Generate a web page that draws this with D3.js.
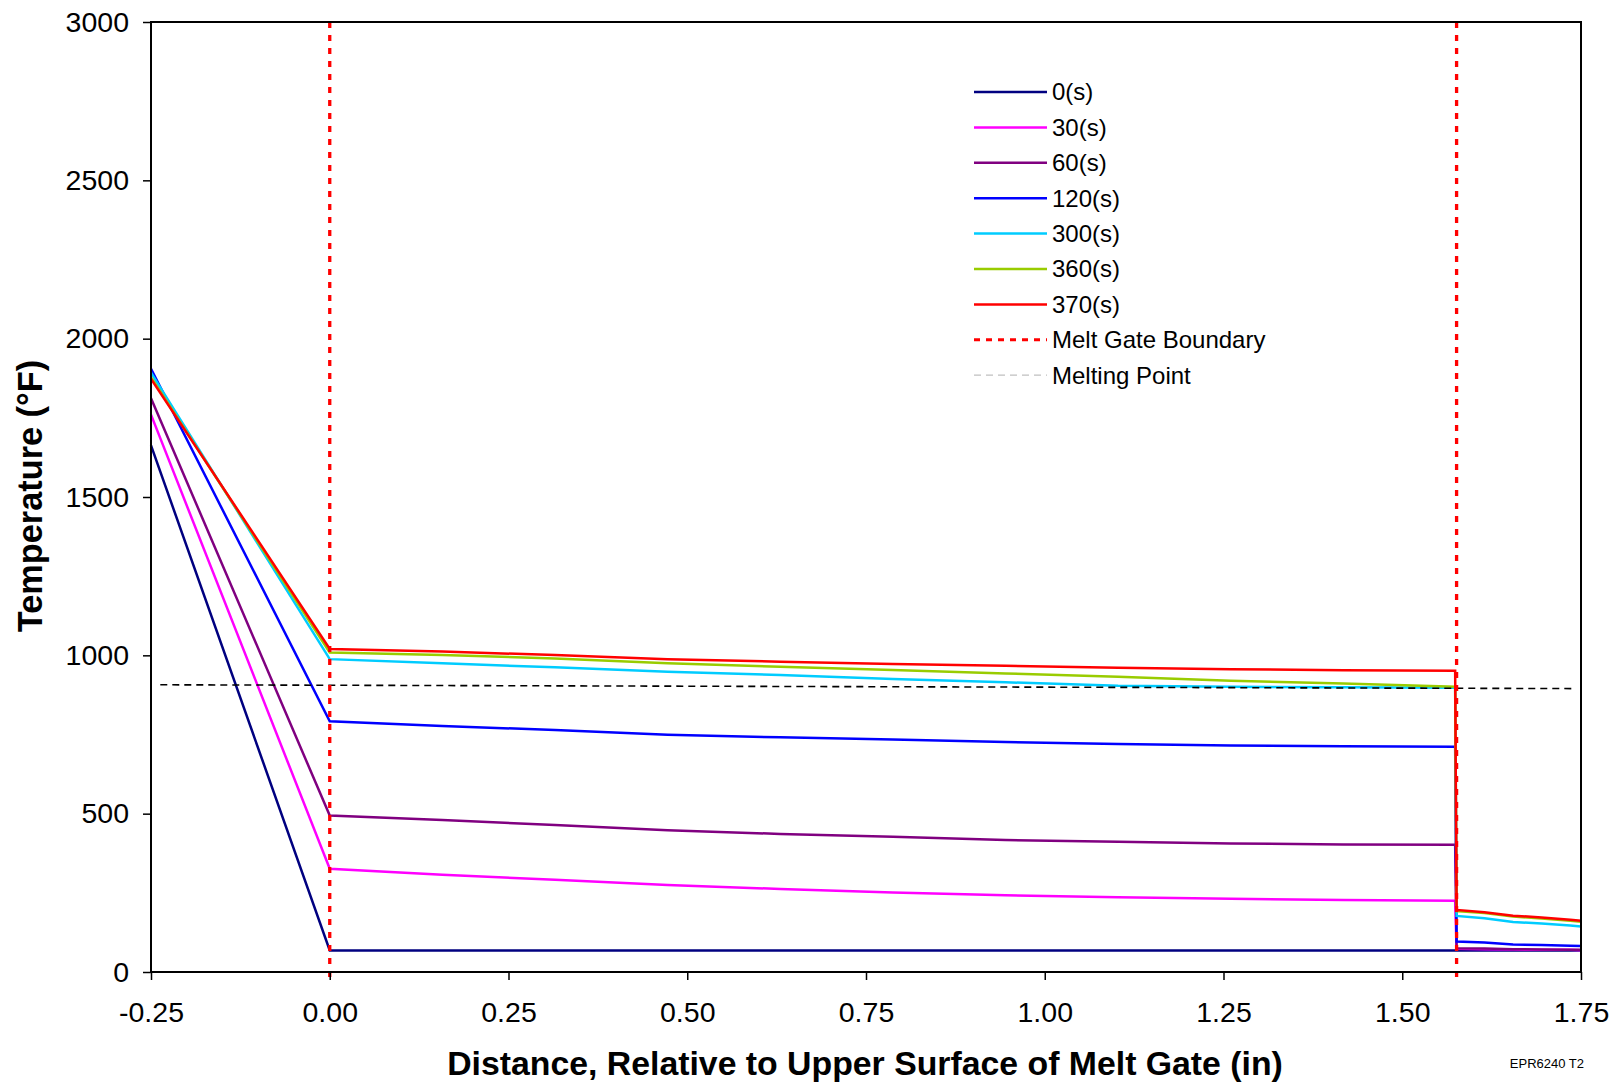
<!DOCTYPE html>
<html>
<head>
<meta charset="utf-8">
<script src="https://cdn.jsdelivr.net/npm/d3@7"></script>
<style>
  html, body { margin: 0; padding: 0; background: #fff; }
  svg { display: block; }
  text { font-family: "Liberation Sans", Arial, sans-serif; fill: #000; }
</style>
</head>
<body>
<svg id="chart" width="1621" height="1083"></svg>
<script>
// ---- Data ----
const xNodes = [-0.25, 0, 0.1575, 0.315, 0.4725, 0.63, 0.7875, 0.945, 1.1025, 1.26, 1.4175, 1.574,
                1.576, 1.615, 1.655, 1.695, 1.735, 1.75];

const seriesNames = ["0(s)", "30(s)", "60(s)", "120(s)", "300(s)", "360(s)", "370(s)"];
const seriesColors = ["#000080", "#ff00ff", "#800080", "#0000ff", "#00ccff", "#99cc00", "#ff0000"];

const temp0s   = [1663, 68, 68, 68, 68, 68, 68, 68, 68, 68, 68, 68, 68, 68, 68, 68, 68, 68];
const temp30s  = [1760, 326, 307, 291, 275, 262, 251, 242, 236, 231, 227, 225, 73, 72, 71, 70, 70, 69];
const temp60s  = [1812, 494, 480, 464, 448, 436, 427, 417, 411, 406, 403, 402, 75, 74, 72, 71, 70, 70];
const temp120s = [1905, 792, 777, 764, 749, 741, 734, 726, 720, 715, 713, 711, 96, 93, 87, 85, 83, 82];
const temp300s = [1893, 988, 975, 962, 948, 938, 925, 915, 904, 901, 899, 898, 177, 170, 158, 153, 147, 144];
const temp360s = [1878, 1009, 1001, 990, 975, 964, 954, 943, 932, 920, 911, 901, 192, 186, 175, 169, 162, 159];
const temp370s = [1873, 1020, 1012, 1001, 988, 980, 973, 967, 961, 956, 953, 951, 196, 189, 178, 172, 165, 162];

const gateBoundaryX = [0, 1.576];
const meltingPointX = [-0.237, 1.739];
const meltingPointT = [907, 895];

const xTicks = [-0.25, 0, 0.25, 0.5, 0.75, 1.0, 1.25, 1.5, 1.75];
const yTicks = [0, 500, 1000, 1500, 2000, 2500, 3000];

const xTitle = "Distance, Relative to Upper Surface of Melt Gate (in)";
const yTitle = "Temperature (°F)";
const footnote = "EPR6240 T2";

// ---- Layout ----
const svg = d3.select("#chart");
const L = 151, R = 1581, T = 22, B = 972;

const x = d3.scaleLinear().domain([-0.25, 1.75]).range([L, R]);
const y = d3.scaleLinear().domain([0, 3000]).range([B, T]);

const allSeries = [temp0s, temp30s, temp60s, temp120s, temp300s, temp360s, temp370s];

// series lines
const line = d3.line().x((d, i) => x(xNodes[i])).y(d => y(d));
const gSeries = svg.append("g");
allSeries.forEach((vals, k) => {
  gSeries.append("path")
    .datum(vals)
    .attr("d", line)
    .attr("fill", "none")
    .attr("stroke", seriesColors[k])
    .attr("stroke-width", 2.5)
    .attr("stroke-linejoin", "miter");
});

// melting point line
svg.append("path")
  .datum(meltingPointT)
  .attr("d", d3.line().x((d, i) => x(meltingPointX[i])).y(d => y(d)))
  .attr("fill", "none")
  .attr("stroke", "#000")
  .attr("stroke-width", 1.6)
  .attr("stroke-dasharray", "7,5");

// gate boundaries
gateBoundaryX.forEach(gx => {
  svg.append("line")
    .attr("x1", x(gx)).attr("x2", x(gx))
    .attr("y1", y(3000)).attr("y2", y(0) + 10)
    .attr("stroke", "#ff0000")
    .attr("stroke-width", 3.3)
    .attr("stroke-dasharray", "6,7");
});

// axes
const fmtX = d => d3.format(".2f")(d).replace("\u2212", "-");
const xAxis = d3.axisBottom(x).tickValues(xTicks).tickFormat(fmtX).tickSize(8).tickPadding(22);
const yAxis = d3.axisLeft(y).tickValues(yTicks).tickFormat(d3.format("d")).tickSize(8).tickPadding(14);

const gx = svg.append("g").attr("transform", `translate(0,${B})`).call(xAxis);
const gy = svg.append("g").attr("transform", `translate(${L},0)`).call(yAxis);
[gx, gy].forEach(g => {
  g.select(".domain").remove();
  g.selectAll("line").attr("stroke", "#000").attr("stroke-width", 1.5);
  g.selectAll("text").style("font-size", "28.5px").attr("fill", "#000");
});
gx.selectAll("text").attr("dy", "0.71em");

// plot frame
svg.append("rect")
  .attr("x", L).attr("y", T).attr("width", R - L).attr("height", B - T)
  .attr("fill", "none").attr("stroke", "#000").attr("stroke-width", 2);

// titles
svg.append("text")
  .attr("x", 865).attr("y", 1075)
  .attr("text-anchor", "middle")
  .style("font-size", "33.8px").style("font-weight", "bold")
  .text(xTitle);

svg.append("text")
  .attr("transform", `translate(42,496) rotate(-90)`)
  .attr("text-anchor", "middle")
  .style("font-size", "34.3px").style("font-weight", "bold")
  .text(yTitle);

svg.append("text")
  .attr("x", 1584).attr("y", 1068)
  .attr("text-anchor", "end")
  .style("font-size", "13px")
  .text(footnote);

// legend
const legend = svg.append("g");
const legX1 = 974, legX2 = 1047, legTextX = 1052, legY0 = 92, legDY = 35.4;
const legendItems = seriesNames.map((n, k) => ({ name: n, color: seriesColors[k], width: 2.5, dash: null }))
  .concat([
    { name: "Melt Gate Boundary", color: "#ff0000", width: 3, dash: "6,6" },
    { name: "Melting Point", color: "#c0c0c0", width: 1.2, dash: "7,5" }
  ]);
legendItems.forEach((it, i) => {
  const yy = legY0 + i * legDY;
  legend.append("line")
    .attr("x1", legX1).attr("x2", legX2).attr("y1", yy).attr("y2", yy)
    .attr("stroke", it.color).attr("stroke-width", it.width)
    .attr("stroke-dasharray", it.dash);
  legend.append("text")
    .attr("x", legTextX).attr("y", yy).attr("dy", "0.35em")
    .style("font-size", "24px")
    .text(it.name);
});
</script>
</body>
</html>
